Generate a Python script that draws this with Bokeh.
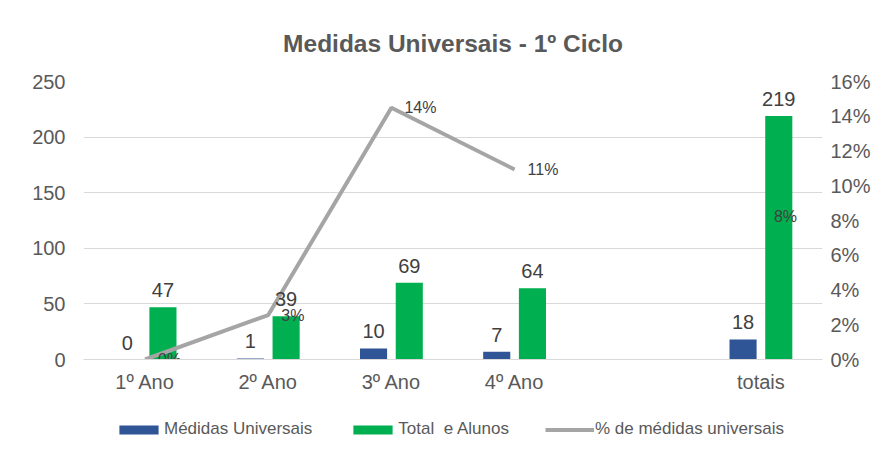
from bokeh.plotting import figure
from bokeh.layouts import column
from bokeh.models import (Range1d, LinearAxis, FactorRange, NumeralTickFormatter,
                          SingleIntervalTicker, ColumnDataSource, Legend, LegendItem)
from bokeh.transform import dodge
from bokeh.core.properties import value
from bokeh.embed import file_html
from bokeh.resources import INLINE

# ---- data ----
axis_factors = ["1º Ano", "2º Ano", "3º Ano", "4º Ano", " ", "totais"]
categories = ["1º Ano", "2º Ano", "3º Ano", "4º Ano", "totais"]
medidas = [0, 1, 10, 7, 18]
alunos = [47, 39, 69, 64, 219]
pct = [0.0, 0.0256, 0.1449, 0.1094, 0.0822]
pct_labels = ["0%", "3%", "14%", "11%", "8%"]
line_categories = ["1º Ano", "2º Ano", "3º Ano", "4º Ano"]
line_pct = [0.0, 0.0256, 0.1449, 0.1094]
series_names = ["Médidas Universais", "Total  e Alunos", "% de médidas universais"]

FONT = "Liberation Sans"
BLUE = "#2F5597"
GREEN = "#00B050"
GRAY = "#A5A5A5"

src = ColumnDataSource(dict(
    cat=categories, medidas=medidas, alunos=alunos,
    med_lbl=[str(v) for v in medidas], alu_lbl=[str(v) for v in alunos],
    pct=pct, pct_lbl=pct_labels,
))
line_src = ColumnDataSource(dict(cat=line_categories, pct=line_pct))

W = 874
p = figure(frame_width=739, frame_height=278, x_range=FactorRange(factors=axis_factors),
           y_range=Range1d(0, 250), output_backend="svg", toolbar_location=None,
           min_border_left=83, min_border_right=52, min_border_top=81, min_border_bottom=34)
p.outline_line_color = None
p.background_fill_color = "white"
p.border_fill_color = "white"

p.title.text = "Medidas Universais - 1º Ciclo"
p.title.align = "center"
p.title.text_font = FONT
p.title.text_font_size = "24.5px"
p.title.text_font_style = "bold"
p.title.text_color = "#595959"
p.title.standoff = 49

p.extra_y_ranges = {"pct": Range1d(0, 0.16)}
right = LinearAxis(y_range_name="pct", formatter=NumeralTickFormatter(format="0%"),
                   ticker=SingleIntervalTicker(interval=0.02))
p.add_layout(right, "right")

p.yaxis[0].ticker = SingleIntervalTicker(interval=50)
for ax in p.yaxis:
    ax.axis_line_color = None
    ax.major_tick_line_color = None
    ax.minor_tick_line_color = None
    ax.major_tick_out = 0
    ax.major_tick_in = 0
    ax.minor_tick_out = 0
    ax.major_label_text_font = FONT
    ax.major_label_text_font_size = "20px"
    ax.major_label_text_color = "#595959"
p.yaxis[0].major_label_standoff = 18
right.major_label_standoff = 8

p.xaxis.axis_line_color = "#D9D9D9"
p.xaxis.major_tick_line_color = None
p.xaxis.minor_tick_line_color = None
p.xaxis.major_tick_out = 0
p.xaxis.major_tick_in = 0
p.xaxis.major_label_text_font = FONT
p.xaxis.major_label_text_font_size = "20px"
p.xaxis.major_label_text_color = "#595959"
p.xaxis.major_label_standoff = 11

p.xgrid.grid_line_color = None
p.ygrid.grid_line_color = "#D9D9D9"
p.ygrid.grid_line_width = 1

bw = 0.22
off = 0.145
p.vbar(x=dodge("cat", -off, range=p.x_range), top="medidas", width=bw,
       source=src, fill_color=BLUE, line_color=None)
p.vbar(x=dodge("cat", off, range=p.x_range), top="alunos", width=bw,
       source=src, fill_color=GREEN, line_color=None)
p.line(x="cat", y="pct", source=line_src, y_range_name="pct",
       line_color=GRAY, line_width=4)

p.text(x=dodge("cat", -off, range=p.x_range), y="medidas", text="med_lbl", source=src,
       text_font=value(FONT), text_font_size="20px", text_color="#404040",
       text_align="center", text_baseline="bottom", y_offset=-10)
p.text(x=dodge("cat", off, range=p.x_range), y="alunos", text="alu_lbl", source=src,
       text_font=value(FONT), text_font_size="20px", text_color="#404040",
       text_align="center", text_baseline="bottom", y_offset=-10)
p.text(x="cat", y="pct", text="pct_lbl", source=src, y_range_name="pct",
       text_font=value(FONT), text_font_size="16px", text_color="#404040",
       text_align="left", text_baseline="middle", x_offset=13)

# ---- legend strip (separate figure below the chart) ----
lg = figure(width=W, height=44, x_range=Range1d(0, 1), y_range=Range1d(0, 1),
            output_backend="svg", toolbar_location=None, min_border=0)
lg.outline_line_color = None
lg.axis.visible = False
lg.grid.visible = False
# zero-size proxy glyphs, only used to draw the legend keys
k_med = lg.vbar(x=[0], bottom=[0], top=[0], width=0, fill_color=BLUE, line_color=None)
k_alu = lg.vbar(x=[0], bottom=[0], top=[0], width=0, fill_color=GREEN, line_color=None)
k_line = lg.line(x=[0], y=[0], line_color=GRAY, line_width=4)

legend = Legend(items=[
    LegendItem(label=series_names[0], renderers=[k_med]),
    LegendItem(label=series_names[1], renderers=[k_alu]),
    LegendItem(label=series_names[2], renderers=[k_line]),
], orientation="horizontal", location=(31, 0))
legend.glyph_width = 49
legend.glyph_height = 11
legend.label_standoff = 1
legend.spacing = 36
legend.margin = 0
legend.padding = 2
legend.label_text_font = FONT
legend.label_text_font_size = "17px"
legend.label_text_color = "#595959"
legend.border_line_color = None
legend.background_fill_alpha = 0
lg.add_layout(legend, "center")

layout = column(p, lg, spacing=0)
open("out.html", "w").write(file_html(layout, INLINE))
